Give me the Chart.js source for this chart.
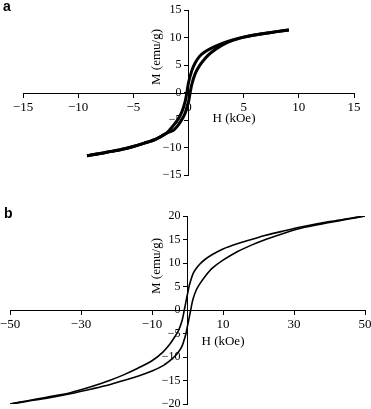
<!DOCTYPE html>
<html>
<head>
<meta charset="utf-8">
<script src="https://cdn.jsdelivr.net/npm/chart.js@4.4.0/dist/chart.umd.min.js"></script>
<style>
    html, body { margin: 0; padding: 0; background: #fff; }
    #page { position: relative; width: 371px; height: 409px; overflow: hidden; background: #fff; }
    canvas { position: absolute; }
    #chartA { left: 0; top: 0; }
    #chartB { left: -15px; top: 200px; }
    .panel { position: absolute; font-family: "Liberation Sans", Arial, sans-serif; font-weight: bold; font-size: 14px; line-height: 1; color: #000; }
    .title { position: absolute; font-family: "Liberation Serif", "Times New Roman", serif; font-size: 13px; color: #000; white-space: nowrap; transform: translate(-50%, -50%); }
    .title.rot { transform: translate(-50%, -50%) rotate(-90deg); }
</style>
</head>
<body>
<div id="page">
    <canvas id="chartA" width="371" height="200"></canvas>
    <canvas id="chartB" width="401" height="230"></canvas>
    <div class="panel" style="left:3px;top:-1px;">a</div>
    <div class="panel" style="left:4px;top:206px;">b</div>
    <div class="title rot" style="left:156px;top:57px;">M (emu/g)</div>
    <div class="title" style="left:234px;top:118px;">H (kOe)</div>
    <div class="title rot" style="left:156px;top:266px;">M (emu/g)</div>
    <div class="title" style="left:223px;top:341px;">H (kOe)</div>
</div>
<script>
// Panel a: field (kOe) and magnetisation (emu/g), descending and ascending branch
var A_DOWN_H = [9.1, 8, 7, 6, 5, 4, 3, 2, 1.4, 1, 0.6, 0.3, 0, -0.15, -0.3, -0.6, -1, -1.5, -2, -3, -4, -5, -6, -7, -8, -9.2];
var A_DOWN_M = [11.4, 11.1, 10.8, 10.5, 10.1, 9.6, 8.9, 8.0, 7.3, 6.6, 5.4, 4.0, 1.8, 0, -1.6, -3.5, -5.0, -6.3, -7.4, -8.5, -9.2, -9.8, -10.3, -10.7, -11.1, -11.5];
var A_UP_H = [-9.2, -8, -7, -6, -5, -4, -3, -2, -1.4, -1, -0.6, -0.3, 0, 0.15, 0.3, 0.6, 1, 1.5, 2, 3, 4, 5, 6, 7, 8, 9.1];
var A_UP_M = [-11.5, -11.1, -10.7, -10.3, -9.8, -9.2, -8.5, -7.4, -6.9, -6.1, -4.9, -3.7, -1.7, 0, 1.5, 3.4, 4.9, 6.2, 7.2, 8.6, 9.5, 10.1, 10.5, 10.8, 11.1, 11.4];
var A_X_TICKS = [-15, -10, -5, 0, 5, 10, 15];
var A_Y_TICKS = [-15, -10, -5, 0, 5, 10, 15];

// Panel b
var B_DOWN_H = [50, 45, 40, 33, 27, 22, 18, 14, 10, 7, 5, 3.5, 2.5, 1.6, 1, 0.5, 0, -0.5, -0.9, -1.5, -2.5, -3.5, -5, -7, -10, -14, -18, -22, -27, -33, -40, -45, -50];
var B_DOWN_M = [20, 19.4, 18.8, 17.8, 16.8, 15.9, 15.0, 14.1, 13.0, 11.8, 10.8, 9.8, 8.9, 7.8, 6.5, 5.2, 3.4, 1.5, 0, -2.2, -4.3, -5.6, -7.3, -9.0, -10.8, -12.4, -13.8, -15.0, -16.3, -17.6, -18.6, -19.3, -20];
var B_UP_H = [-50, -45, -40, -33, -27, -22, -18, -14, -10, -7, -5, -3.5, -2.5, -1.6, -1, -0.5, 0, 0.5, 0.9, 1.5, 2.5, 3.5, 5, 7, 10, 14, 18, 22, 27, 33, 40, 45, 50];
var B_UP_M = [-20, -19.4, -18.8, -17.8, -16.8, -15.9, -15.0, -14.1, -13.0, -11.9, -10.8, -9.8, -8.9, -7.8, -6.5, -5.2, -3.4, -1.5, 0, 2.2, 4.3, 5.6, 7.2, 8.9, 10.6, 12.4, 13.8, 15.0, 16.3, 17.6, 18.6, 19.3, 20];
var B_X_TICKS = [-50, -30, -10, 10, 30, 50];
var B_Y_TICKS = [-20, -15, -10, -5, 0, 5, 10, 15, 20];

var SERIF = '"Liberation Serif", "Times New Roman", serif';

function points(hs, ms) {
    return hs.map(function (h, i) { return {x: h, y: ms[i]}; });
}

function fmt(v) {
    return v < 0 ? '\u2212' + Math.abs(v) : String(v);
}

// axes cross at the middle of the chart area (ranges are symmetric round zero)
function axis(min, max, ticks, size, pad) {
    return {
        type: 'linear',
        min: min,
        max: max,
        position: 'center',
        grid: {display: true, drawOnChartArea: false, drawTicks: true, tickLength: 4, color: '#000', lineWidth: 1},
        border: {display: true, color: '#000', width: 1},
        ticks: {color: '#000', font: {family: SERIF, size: size}, padding: pad, autoSkip: false, maxRotation: 0, callback: fmt},
        afterBuildTicks: function (scale) {
            scale.ticks = ticks.map(function (v) { return {value: v}; });
        }
    };
}

function makeChart(id, down, up, xr, yr, xt, yt, lw, padding) {
    var line = {showLine: true, borderColor: '#000', backgroundColor: '#000', borderWidth: lw, pointRadius: 0, tension: 0.3, fill: false};
    return new Chart(document.getElementById(id), {
        type: 'scatter',
        data: {
            datasets: [
                Object.assign({data: down}, line),
                Object.assign({data: up}, line)
            ]
        },
        options: {
            responsive: false,
            animation: false,
            layout: {padding: padding},
            plugins: {legend: {display: false}, tooltip: {enabled: false}},
            scales: {
                x: axis(xr[0], xr[1], xt, 13, 3),
                y: axis(yr[0], yr[1], yt, 12, 3)
            }
        }
    });
}

makeChart('chartA', points(A_DOWN_H, A_DOWN_M), points(A_UP_H, A_UP_M),
    [-15, 15], [-15, 15], A_X_TICKS, A_Y_TICKS, 3,
    {left: 23, right: 17, top: 5, bottom: 25});

makeChart('chartB', points(B_DOWN_H, B_DOWN_M), points(B_UP_H, B_UP_M),
    [-50, 50], [-20, 20], B_X_TICKS, B_Y_TICKS, 1.6,
    {left: 25, right: 21, top: 16, bottom: 26});
</script>
</body>
</html>
